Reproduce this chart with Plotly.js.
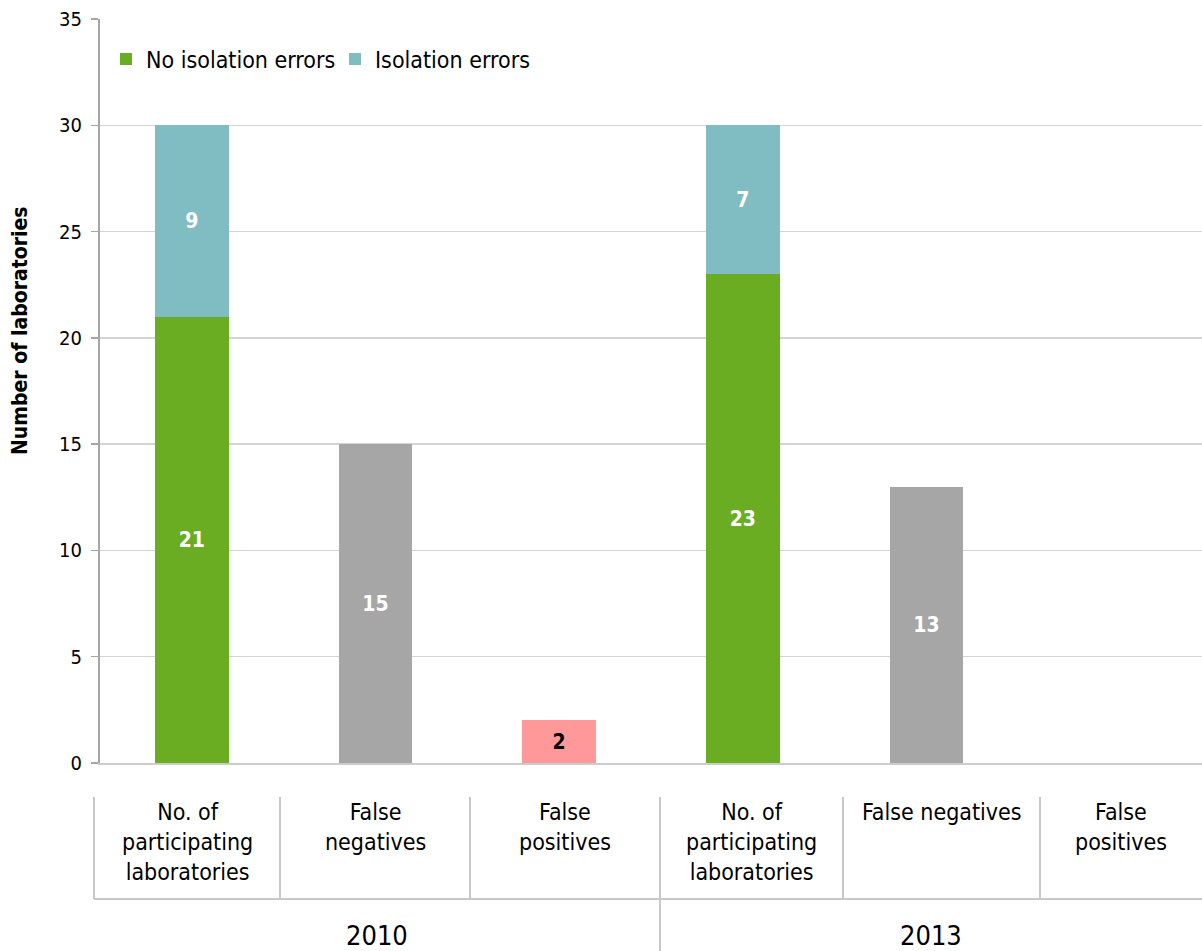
<!DOCTYPE html>
<html>
<head>
<meta charset="utf-8">
<script src="https://cdn.plot.ly/plotly-3.0.1.min.js"></script>
<style>html,body{margin:0;padding:0;background:#fff;}#chart{width:1202px;height:951px;}</style>
</head>
<body>
<div id="chart"></div>
<script>
// ---- data ----
var years = ['2010', '2013'];
var cellLabels = [
  'No. of<br>participating<br>laboratories', 'False<br>negatives', 'False<br>positives',
  'No. of<br>participating<br>laboratories', 'False negatives', 'False<br>positives'
];
var participatingIdx = [0, 3];
var noIsolationErrors = [21, 23];
var isolationErrors = [9, 7];
var falseNegIdx = [1, 4];
var falseNegatives = [15, 13];
var falsePosIdx = [2, 5];
var falsePositives = [2, 0];

var FONT = '"DejaVu Sans Condensed", "DejaVu Sans", sans-serif';
function lbl(arr) { return arr.map(function (v) { return v > 0 ? String(v) : ''; }); }

var common = {
  type: 'bar', width: 0.4, textposition: 'inside', insidetextanchor: 'middle',
  constraintext: 'none', hoverinfo: 'y', cliponaxis: false
};

var traces = [
  Object.assign({}, common, {
    name: 'No isolation errors', x: participatingIdx, y: noIsolationErrors,
    text: lbl(noIsolationErrors), marker: {color: '#6aad23'},
    textfont: {family: FONT, size: 21, color: '#ffffff', weight: 'bold'}
  }),
  Object.assign({}, common, {
    name: 'Isolation errors', x: participatingIdx, y: isolationErrors,
    text: lbl(isolationErrors), marker: {color: '#7fbdc2'},
    textfont: {family: FONT, size: 21, color: '#ffffff', weight: 'bold'}
  }),
  Object.assign({}, common, {
    name: 'False negatives', x: falseNegIdx, y: falseNegatives, showlegend: false,
    text: lbl(falseNegatives), marker: {color: '#a6a6a6'},
    textfont: {family: FONT, size: 21, color: '#ffffff', weight: 'bold'}
  }),
  Object.assign({}, common, {
    name: 'False positives', x: falsePosIdx, y: falsePositives, showlegend: false,
    text: lbl(falsePositives), marker: {color: '#ff9999'},
    textfont: {family: FONT, size: 21, color: '#000000', weight: 'bold'}
  })
];

// layout helpers for the two-level category table below the axis
var L = 100, W = 1102, PT = 19, PH = 744;
function px(x) { return (x - L) / W; }
function py(y) { return (PT + PH - y) / PH; }
var cellEdges = [94, 280, 470, 660, 843, 1040, 1202];
var lineColor = '#c8c8c8';
var shapes = [];
for (var i = 0; i < cellEdges.length - 1; i++) {
  shapes.push({type: 'line', xref: 'paper', yref: 'paper',
    x0: px(cellEdges[i]), x1: px(cellEdges[i]), y0: py(797), y1: py(i === 3 ? 951 : 899),
    line: {color: lineColor, width: 2}});
}
shapes.push({type: 'line', xref: 'paper', yref: 'paper',
  x0: px(94), x1: px(1202), y0: py(899), y1: py(899), line: {color: lineColor, width: 2}});

var annotations = [];
cellLabels.forEach(function (t, i) {
  annotations.push({xref: 'paper', yref: 'paper', x: px((cellEdges[i] + cellEdges[i + 1]) / 2), y: py(797),
    xanchor: 'center', yanchor: 'top', showarrow: false, text: t, align: 'center',
    font: {family: FONT, size: 23, color: '#000000'}});
});
years.forEach(function (yr, j) {
  var a = cellEdges[j * 3], b = cellEdges[j * 3 + 3];
  annotations.push({xref: 'paper', yref: 'paper', x: px((a + b) / 2), y: py(936),
    xanchor: 'center', yanchor: 'middle', showarrow: false, text: yr,
    font: {family: FONT, size: 27, color: '#000000'}});
});
annotations.push({xref: 'paper', yref: 'paper', x: px(20), y: py(331), xanchor: 'center', yanchor: 'middle',
  showarrow: false, textangle: -90, text: 'Number of laboratories',
  font: {family: FONT, size: 21, color: '#000000', weight: 'bold'}});

var layout = {
  width: 1202, height: 951,
  margin: {l: L, r: 0, t: PT, b: 951 - PT - PH, pad: 0},
  paper_bgcolor: '#ffffff', plot_bgcolor: '#ffffff',
  barmode: 'stack',
  showlegend: true,
  legend: {orientation: 'h', x: px(106), y: py(59), xanchor: 'left', yanchor: 'middle',
    font: {family: FONT, size: 23, color: '#000000'}, bgcolor: 'rgba(0,0,0,0)',
    itemwidth: 30, traceorder: 'normal', entrywidth: 184, entrywidthmode: 'pixels'},
  xaxis: {range: [-0.5, 5.5], showticklabels: false, ticks: '', showgrid: false,
    zeroline: false, showline: true, linecolor: '#cccccc', linewidth: 2, fixedrange: true},
  yaxis: {range: [0, 35], dtick: 5, tick0: 0, showgrid: true, gridcolor: '#d4d4d4', gridwidth: 1.5,
    zeroline: false, showline: true, linecolor: '#a6a6a6', linewidth: 2,
    ticks: 'outside', ticklen: 7, tickcolor: '#a6a6a6', tickwidth: 1.5, ticklabelstandoff: 5,
    tickfont: {family: FONT, size: 20, color: '#000000'}},
  shapes: shapes,
  annotations: annotations,
  font: {family: FONT}
};

Plotly.newPlot('chart', traces, layout, {displayModeBar: false, staticPlot: true});
</script>
</body>
</html>
